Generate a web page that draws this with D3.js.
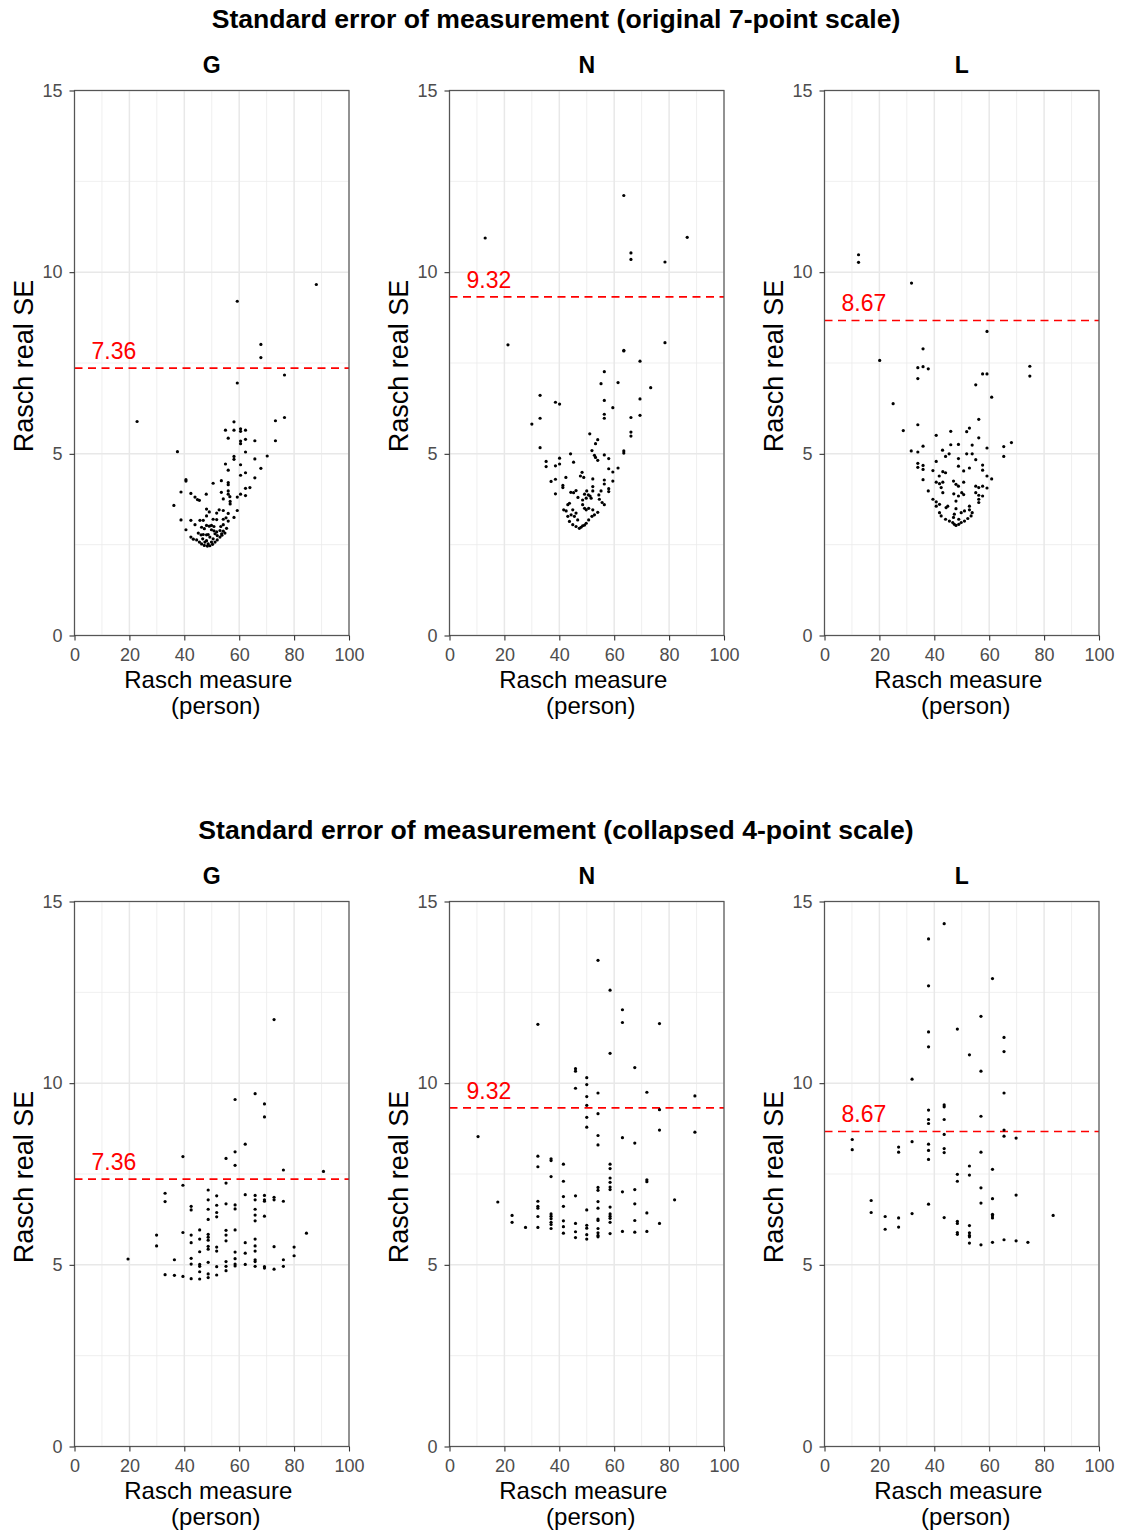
<!DOCTYPE html>
<html>
<head>
<meta charset="utf-8">
<script src="https://cdn.jsdelivr.net/npm/d3@7"></script>
<style>
  html, body { margin: 0; padding: 0; background: #ffffff; }
  svg { display: block; }
  text { font-family: "Liberation Sans", Arial, Helvetica, sans-serif; }
</style>
</head>
<body>
<svg id="chart" width="1131" height="1534"></svg>
<script>
// ---------------- DATA ----------------
const rowTitles = [
  "Standard error of measurement (original 7-point scale)",
  "Standard error of measurement (collapsed 4-point scale)"
];
const panelNames = ["G", "N", "L"];
const thresholds = [7.36, 9.32, 8.67];
const thresholdLabels = ["7.36", "9.32", "8.67"];
const xTicks = [0, 20, 40, 60, 80, 100];
const yTicks = [0, 5, 10, 15];
const xLabelLines = ["Rasch measure", "(person)"];
const yLabel = "Rasch real SE";

// original 7-point scale: [Rasch measure, real SE]
const g7 = [[88.1,9.66],[59.3,9.20],[67.9,8.01],[67.9,7.65],[76.5,7.17],[59.3,6.95],[76.5,6.00],[73.2,5.91],[58.1,5.88],[55.0,5.65],[58.1,5.65],[60.5,5.69],[60.5,5.62],[62.3,5.65],[56.0,5.43],[60.5,5.35],[60.5,5.28],[62.3,5.40],[65.7,5.36],[73.2,5.36],[37.5,5.06],[22.8,5.89],[62.3,5.05],[70.2,4.94],[58.1,4.93],[58.1,4.85],[55.0,4.72],[65.7,4.86],[60.5,4.70],[67.9,4.60],[56.0,4.55],[62.3,4.48],[60.5,4.41],[65.7,4.34],[40.6,4.29],[40.6,4.25],[50.5,4.19],[53.5,4.26],[56.0,4.21],[56.0,4.15],[63.9,4.07],[62.3,4.05],[38.8,3.95],[42.4,3.91],[48.0,3.89],[53.5,3.94],[56.0,3.98],[56.0,3.89],[56.6,3.82],[60.5,3.89],[62.3,3.85],[43.9,3.81],[44.8,3.74],[45.5,3.72],[54.2,3.76],[59.3,3.81],[56.7,3.69],[56.7,3.62],[36.2,3.58],[52.7,3.46],[54.2,3.44],[48.1,3.48],[49.1,3.40],[56.0,3.36],[59.3,3.44],[51.8,3.37],[48.1,3.29],[58.1,3.25],[38.8,3.18],[42.4,3.17],[45.7,3.17],[46.9,3.17],[50.5,3.20],[51.8,3.19],[54.2,3.20],[55.2,3.24],[56.0,3.15],[43.9,3.05],[48.1,3.03],[49.1,3.01],[49.9,3.03],[50.8,3.00],[54.2,3.05],[53.3,3.00],[55.4,2.95],[46.3,2.98],[47.3,2.94],[40.6,2.91],[49.9,2.91],[50.8,2.88],[51.8,2.85],[53.0,2.89],[54.2,2.87],[54.8,2.82],[53.6,2.80],[45.1,2.82],[46.1,2.77],[46.9,2.78],[48.1,2.77],[48.7,2.78],[42.4,2.71],[43.3,2.65],[44.5,2.63],[45.5,2.57],[46.3,2.52],[47.3,2.48],[48.4,2.46],[49.3,2.47],[50.3,2.51],[51.2,2.57],[52.0,2.63],[53.0,2.71],[53.7,2.76],[49.3,2.71],[50.5,2.66],[52.0,2.75],[48.1,2.61],[46.7,2.66],[51.2,2.80],[47.5,2.57],[49.9,2.57],[48.7,2.52]];

const n7 = [[63.5,12.11],[13.0,10.94],[66.1,10.53],[66.1,10.35],[78.5,10.28],[86.6,10.96],[21.3,8.00],[78.5,8.06],[63.5,7.85],[63.5,7.83],[69.4,7.55],[56.4,7.26],[55.2,6.93],[61.4,6.96],[73.3,6.82],[33.0,6.61],[38.6,6.42],[40.1,6.37],[56.4,6.47],[69.4,6.51],[59.5,6.27],[56.4,6.09],[56.4,5.98],[33.0,5.98],[66.1,6.00],[69.4,6.06],[30.0,5.82],[66.1,5.60],[66.1,5.49],[51.1,5.55],[54.0,5.39],[53.2,5.28],[33.0,5.17],[63.5,5.08],[63.5,5.02],[51.9,5.09],[52.8,4.96],[53.2,4.90],[54.0,4.82],[56.4,4.97],[58.0,4.87],[44.1,5.00],[40.1,4.88],[40.1,4.72],[38.6,4.67],[35.2,4.79],[35.2,4.65],[45.2,4.77],[61.4,4.61],[59.5,4.50],[58.0,4.59],[48.3,4.49],[47.7,4.39],[48.9,4.35],[42.4,4.35],[37.0,4.24],[38.6,4.30],[56.4,4.28],[56.4,4.17],[59.5,4.25],[52.2,4.31],[41.3,4.13],[41.3,4.07],[46.1,3.99],[44.2,3.94],[45.2,3.93],[38.6,3.90],[52.2,4.10],[52.2,3.98],[50.0,3.98],[51.2,3.84],[50.6,3.87],[51.6,3.78],[55.2,3.98],[58.0,4.04],[58.0,3.96],[54.4,3.87],[54.6,3.75],[55.6,3.66],[56.4,3.60],[49.2,3.89],[46.8,3.80],[48.5,3.73],[49.8,3.78],[43.7,3.64],[43.1,3.60],[41.6,3.46],[42.5,3.43],[48.5,3.60],[49.2,3.50],[49.8,3.46],[50.7,3.50],[52.2,3.46],[54.0,3.39],[52.8,3.32],[51.9,3.28],[50.7,3.18],[49.8,3.09],[48.5,3.02],[47.3,2.95],[46.1,3.00],[44.9,3.05],[43.7,3.14],[43.1,3.28],[44.3,3.32],[45.5,3.28],[46.7,3.18],[46.1,3.37],[44.9,3.46],[47.9,2.98],[49.2,3.04]];

const l7 = [[12.4,10.48],[12.4,10.27],[31.7,9.70],[59.2,8.37],[35.9,7.89],[20.1,7.57],[34.0,7.37],[35.9,7.40],[37.8,7.34],[57.6,7.20],[59.2,7.20],[74.8,7.41],[74.8,7.14],[34.0,7.07],[55.1,6.90],[60.9,6.56],[25.0,6.38],[56.2,5.95],[34.0,5.80],[28.7,5.64],[46.0,5.62],[51.8,5.61],[52.8,5.71],[40.7,5.51],[56.2,5.44],[68.1,5.31],[65.3,5.20],[65.3,4.93],[31.6,5.08],[34.0,5.05],[35.9,5.21],[43.0,5.10],[46.0,5.25],[48.8,5.26],[53.8,5.24],[59.2,5.16],[45.4,5.00],[44.1,4.93],[51.8,5.00],[53.8,5.00],[48.8,4.87],[55.1,4.84],[40.7,4.79],[34.0,4.74],[34.0,4.63],[35.9,4.68],[35.9,4.57],[57.6,4.69],[57.6,4.55],[39.5,4.54],[48.8,4.66],[52.8,4.61],[50.7,4.53],[43.1,4.51],[44.1,4.48],[59.2,4.39],[60.9,4.31],[41.8,4.39],[35.9,4.29],[40.7,4.22],[41.9,4.18],[43.1,4.22],[42.5,4.07],[47.0,4.25],[47.9,4.16],[50.7,4.22],[48.8,4.11],[55.1,4.11],[56.2,4.07],[57.6,4.11],[59.2,4.06],[37.8,3.98],[43.1,3.93],[39.5,3.75],[40.7,3.68],[40.7,3.56],[41.9,3.61],[47.1,3.90],[50.0,3.93],[50.7,3.88],[48.8,3.84],[47.9,3.70],[55.1,3.93],[56.2,3.86],[56.2,3.75],[57.6,3.84],[56.2,3.66],[44.3,3.52],[44.9,3.56],[47.9,3.49],[49.8,3.38],[51.0,3.43],[52.8,3.56],[52.8,3.46],[53.8,3.38],[41.9,3.38],[42.5,3.29],[44.1,3.20],[45.5,3.15],[46.7,3.11],[47.3,3.06],[47.9,3.03],[48.9,3.06],[49.8,3.11],[51.0,3.15],[52.2,3.22],[53.4,3.29],[47.3,3.34],[47.0,3.25],[48.9,3.20]];

// collapsed 4-point scale
const g4 = [[72.7,11.75],[58.5,9.55],[65.8,9.71],[69.2,9.43],[69.2,9.07],[62.2,8.32],[39.5,7.98],[55.2,7.93],[58.5,8.11],[58.5,7.74],[76.1,7.61],[90.7,7.57],[55.2,7.25],[39.5,7.19],[33.0,6.97],[33.0,6.74],[48.7,7.06],[51.8,6.90],[42.5,6.61],[42.5,6.51],[48.7,6.79],[48.7,6.53],[48.7,6.25],[51.8,6.64],[51.8,6.44],[51.8,6.32],[55.2,6.68],[58.5,6.65],[58.5,6.54],[62.2,6.93],[65.8,6.91],[65.8,6.79],[65.8,6.53],[65.8,6.37],[65.8,6.21],[69.2,6.91],[69.2,6.79],[69.2,6.75],[69.2,6.34],[72.7,6.86],[72.7,6.79],[76.1,6.75],[29.9,5.82],[29.9,5.52],[39.5,5.89],[42.5,5.82],[42.5,5.61],[45.6,5.96],[45.6,5.71],[48.7,5.84],[48.7,5.76],[48.7,5.68],[48.7,5.51],[48.7,5.43],[51.8,5.49],[51.8,5.38],[55.2,5.95],[55.2,5.82],[55.2,5.66],[58.5,5.96],[62.2,5.61],[62.2,5.32],[65.8,5.71],[65.8,5.52],[65.8,5.38],[65.8,5.14],[65.8,5.09],[65.8,4.96],[72.7,5.50],[80.0,5.49],[80.0,5.25],[84.5,5.87],[19.5,5.16],[36.4,5.14],[42.5,5.18],[42.5,5.02],[45.6,5.36],[45.6,5.01],[45.6,4.96],[48.7,5.07],[51.8,4.95],[55.2,5.09],[55.2,4.96],[55.2,4.84],[58.5,5.35],[58.5,5.17],[58.5,5.02],[58.5,4.97],[62.2,5.01],[69.2,4.95],[69.2,4.91],[72.7,4.88],[76.1,5.14],[76.1,4.96],[33.0,4.73],[36.4,4.71],[39.5,4.68],[42.5,4.62],[45.6,4.81],[45.6,4.61],[48.7,4.75],[48.7,4.65],[51.8,4.72]];

const n4 = [[54.1,13.38],[58.5,12.56],[63.0,12.02],[63.0,11.67],[76.5,11.64],[32.2,11.62],[58.5,10.82],[67.5,10.43],[45.9,10.40],[45.9,10.33],[50.0,10.15],[50.0,9.96],[45.9,9.86],[54.1,9.73],[50.0,9.63],[50.0,9.39],[71.9,9.75],[89.4,9.65],[76.5,9.27],[54.1,9.16],[50.0,9.06],[50.0,8.79],[76.5,8.71],[89.4,8.65],[10.4,8.53],[54.1,8.56],[54.1,8.30],[63.0,8.50],[67.5,8.35],[32.2,7.99],[32.2,7.70],[37.0,7.92],[37.0,7.87],[37.0,7.43],[41.5,7.77],[58.5,7.77],[58.5,7.65],[58.5,7.39],[58.5,7.27],[58.5,7.14],[58.5,7.07],[71.9,7.34],[71.9,7.29],[41.5,7.30],[54.1,7.13],[54.1,7.05],[45.9,6.90],[63.0,7.01],[67.5,7.07],[41.5,6.88],[54.1,6.74],[17.6,6.73],[32.2,6.75],[32.2,6.61],[32.2,6.56],[41.5,6.61],[82.0,6.79],[50.0,6.51],[54.1,6.56],[58.5,6.59],[67.5,6.68],[37.0,6.40],[37.0,6.34],[71.9,6.43],[58.5,6.40],[58.5,6.34],[58.5,6.28],[22.8,6.36],[22.8,6.17],[32.2,6.33],[54.1,6.26],[54.1,6.22],[37.0,6.27],[37.0,6.17],[37.0,6.11],[37.0,6.00],[41.5,6.21],[67.5,6.22],[76.5,6.14],[45.9,6.14],[58.5,6.17],[27.7,6.03],[32.2,6.03],[41.5,6.05],[41.5,5.87],[45.9,5.91],[45.9,5.75],[50.0,6.09],[50.0,6.01],[50.0,5.83],[50.0,5.71],[54.1,6.00],[54.1,5.88],[54.1,5.81],[54.1,5.77],[58.5,5.86],[63.0,5.92],[67.5,5.90],[71.9,5.92]];

const l4 = [[43.6,14.39],[37.9,13.97],[37.9,12.68],[61.2,12.88],[57.0,11.84],[48.4,11.49],[37.9,11.41],[65.4,11.26],[37.9,11.00],[65.4,10.87],[52.8,10.78],[57.0,10.33],[31.9,10.11],[65.4,9.73],[43.6,9.40],[43.6,9.35],[37.9,9.26],[43.6,9.00],[37.9,9.00],[37.9,8.89],[57.0,9.09],[65.4,8.71],[65.4,8.54],[10.1,8.45],[43.6,8.59],[69.8,8.49],[31.9,8.39],[10.1,8.17],[27.0,8.24],[27.0,8.10],[37.9,8.32],[37.9,8.15],[43.6,8.20],[43.6,8.09],[37.9,7.90],[57.0,8.10],[52.8,7.72],[61.2,7.63],[48.4,7.49],[52.8,7.47],[48.4,7.30],[57.0,7.12],[69.8,6.92],[17.0,6.77],[57.0,6.70],[61.2,6.82],[37.9,6.67],[17.0,6.44],[31.9,6.41],[83.3,6.36],[61.2,6.39],[61.2,6.35],[61.2,6.29],[22.1,6.33],[27.0,6.29],[43.6,6.30],[48.4,6.20],[48.4,6.14],[52.8,6.08],[22.1,5.98],[27.0,6.04],[48.4,5.89],[48.4,5.84],[52.8,5.88],[52.8,5.81],[52.8,5.77],[52.8,5.60],[57.0,5.55],[61.2,5.62],[65.4,5.69],[69.8,5.66],[74.1,5.62]];

const rowsData = [[g7, n7, l7], [g4, n4, l4]];

// ---------------- LAYOUT ----------------
const svg = d3.select("#chart");
const panelLefts = [74.5, 449.5, 824.5];
const panelW = 274.5, panelH = 545;
const rowTops = [90.5, 901.5];
const FONT = '"Liberation Sans", Arial, Helvetica, sans-serif';

const x = d3.scaleLinear().domain([0, 100]).range([0, panelW]);
const y = d3.scaleLinear().domain([0, 15]).range([panelH, 0]);
const xMinor = [10, 30, 50, 70, 90];
const yMinor = [2.5, 7.5, 12.5];

rowsData.forEach((row, ri) => {
  const top = rowTops[ri];
  // row title
  svg.append("text")
    .attr("x", 556).attr("y", top - 62.5)
    .attr("text-anchor", "middle")
    .style("font-family", FONT).style("font-weight", "bold").style("font-size", "26.6px")
    .attr("fill", "#000")
    .text(rowTitles[ri]);

  row.forEach((pts, pi) => {
    const left = panelLefts[pi];
    const g = svg.append("g").attr("transform", `translate(${left},${top})`);

    // strip title
    svg.append("text")
      .attr("x", left + panelW / 2).attr("y", top - 17.5)
      .attr("text-anchor", "middle")
      .style("font-family", FONT).style("font-weight", "bold").style("font-size", "23px")
      .attr("fill", "#000")
      .text(panelNames[pi]);

    // grid minor
    g.selectAll(".vminor").data(xMinor).enter().append("line")
      .attr("x1", d => x(d)).attr("x2", d => x(d)).attr("y1", 0).attr("y2", panelH)
      .attr("stroke", "#ebebeb").attr("stroke-width", 0.8);
    g.selectAll(".hminor").data(yMinor).enter().append("line")
      .attr("y1", d => y(d)).attr("y2", d => y(d)).attr("x1", 0).attr("x2", panelW)
      .attr("stroke", "#ebebeb").attr("stroke-width", 0.8);
    // grid major
    g.selectAll(".vmajor").data(xTicks).enter().append("line")
      .attr("x1", d => x(d)).attr("x2", d => x(d)).attr("y1", 0).attr("y2", panelH)
      .attr("stroke", "#e8e8e8").attr("stroke-width", 1.5);
    g.selectAll(".hmajor").data(yTicks).enter().append("line")
      .attr("y1", d => y(d)).attr("y2", d => y(d)).attr("x1", 0).attr("x2", panelW)
      .attr("stroke", "#e8e8e8").attr("stroke-width", 1.5);

    // threshold line
    const thr = thresholds[pi];
    g.append("line")
      .attr("x1", 0).attr("x2", panelW).attr("y1", y(thr)).attr("y2", y(thr))
      .attr("stroke", "#ff0000").attr("stroke-width", 1.7)
      .attr("stroke-dasharray", "8,5.5");
    g.append("text")
      .attr("x", 17).attr("y", y(thr) - 9)
      .style("font-family", FONT).style("font-size", "23px")
      .attr("fill", "#ff0000")
      .text(thresholdLabels[pi]);

    // points
    g.selectAll(".pt").data(pts).enter().append("circle")
      .attr("cx", d => x(d[0])).attr("cy", d => y(d[1]))
      .attr("r", 1.6).attr("fill", "#000");

    // border
    g.append("rect")
      .attr("x", 0).attr("y", 0).attr("width", panelW).attr("height", panelH)
      .attr("fill", "none").attr("stroke", "#555").attr("stroke-width", 1.2);

    // axes
    const xa = g.append("g").attr("transform", `translate(0,${panelH})`)
      .call(d3.axisBottom(x).tickValues(xTicks).tickSize(5).tickPadding(8));
    const ya = g.append("g")
      .call(d3.axisLeft(y).tickValues(yTicks).tickSize(5).tickPadding(7));
    [xa, ya].forEach(a => {
      a.select(".domain").remove();
      a.selectAll(".tick line").attr("stroke", "#333").attr("stroke-width", 1.1);
      a.selectAll(".tick text")
        .style("font-family", FONT).style("font-size", "18px").attr("fill", "#4d4d4d");
    });

    // x label (two lines, slightly offset like the reference)
    const xLabelShift = [-3.5, 4];
    xLabelLines.forEach((t, li) => {
      svg.append("text")
        .attr("x", left + panelW / 2 + xLabelShift[li]).attr("y", top + panelH + 52.5 + li * 25.5)
        .attr("text-anchor", "middle")
        .style("font-family", FONT).style("font-size", "24px")
        .attr("fill", "#000")
        .text(t);
    });

    // y label
    svg.append("text")
      .attr("transform", `translate(${left - 41.5},${top + panelH / 2 + 3}) rotate(-90)`)
      .attr("text-anchor", "middle")
      .style("font-family", FONT).style("font-size", "27px")
      .attr("fill", "#000")
      .text(yLabel);
  });
});
</script>
</body>
</html>
